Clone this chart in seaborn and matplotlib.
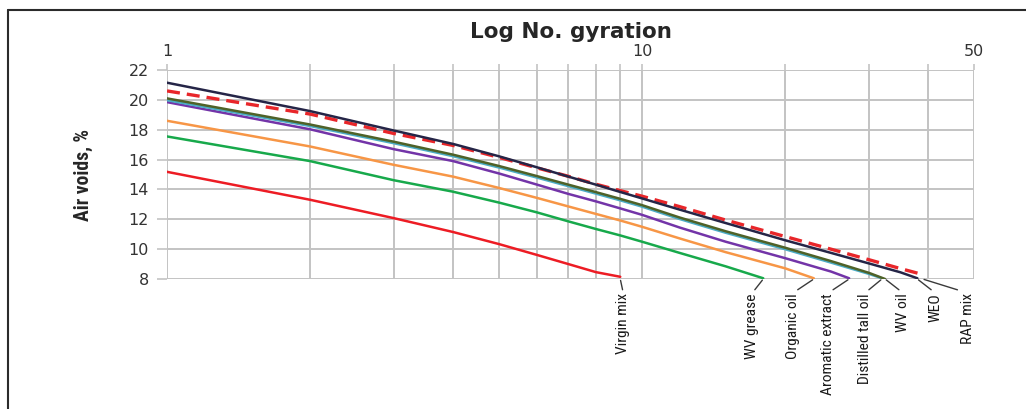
import matplotlib
matplotlib.use("Agg")
import matplotlib.pyplot as plt
from matplotlib import font_manager
from matplotlib.lines import Line2D
from matplotlib.text import Text
from matplotlib.ticker import FixedLocator, NullFormatter, FixedFormatter
import seaborn as sns
import pandas as pd

# Gyration counts and air voids (%) for each mix
n_virgin = [1, 2, 3, 4, 5, 6, 7, 8, 9]
av_virgin = [15.18, 13.31, 12.08, 11.15, 10.34, 9.62, 9.0, 8.46, 8.15]

n_wv_grease = [1, 2, 3, 4, 5, 6, 7, 8, 9, 10, 12, 15, 18]
av_wv_grease = [17.55, 15.9, 14.62, 13.85, 13.12, 12.47, 11.86, 11.35, 10.92, 10.5, 9.75, 8.85, 8.05]

n_organic = [1, 2, 3, 4, 5, 6, 7, 8, 9, 10, 12, 15, 20, 23]
av_organic = [18.6, 16.88, 15.65, 14.86, 14.1, 13.44, 12.86, 12.36, 11.92, 11.5, 10.72, 9.8, 8.72, 8.05]

n_aromatic = [1, 2, 3, 4, 5, 6, 7, 8, 9, 10, 12, 15, 20, 25, 27.3]
av_aromatic = [19.85, 18.03, 16.7, 15.9, 15.07, 14.33, 13.7, 13.2, 12.73, 12.3, 11.45, 10.5, 9.4, 8.5, 8.05]

n_tall_oil = [1, 2, 3, 4, 5, 6, 7, 8, 9, 10, 12, 15, 20, 25, 30, 32]
av_tall_oil = [19.98, 18.25, 17.1, 16.23, 15.47, 14.8, 14.22, 13.72, 13.27, 12.85, 12.02, 11.1, 10.0, 9.1, 8.35, 8.05]

n_wv_oil = [1, 2, 3, 4, 5, 6, 7, 8, 9, 10, 12, 15, 20, 25, 30, 32.5]
av_wv_oil = [20.1, 18.35, 17.2, 16.33, 15.57, 14.9, 14.32, 13.82, 13.37, 12.95, 12.12, 11.2, 10.1, 9.2, 8.42, 8.0]

n_rap = [1, 2, 3, 4, 5, 6, 7, 8, 9, 10, 12, 15, 20, 25, 30, 35, 39]
av_rap = [20.6, 19.05, 17.75, 16.95, 16.15, 15.45, 14.88, 14.35, 13.92, 13.55, 12.85, 11.95, 10.85, 10.0, 9.3, 8.7, 8.3]

n_weo = [1, 2, 3, 4, 5, 6, 7, 8, 9, 10, 12, 15, 20, 25, 30, 35, 38]
av_weo = [21.15, 19.25, 17.95, 17.05, 16.22, 15.49, 14.86, 14.32, 13.83, 13.4, 12.65, 11.75, 10.6, 9.75, 9.05, 8.45, 8.05]

mixes = ["Virgin mix", "WV grease", "Organic oil", "Aromatic extract",
         "Distilled tall oil", "WV oil", "RAP mix", "WEO"]
gyrations = [n_virgin, n_wv_grease, n_organic, n_aromatic, n_tall_oil, n_wv_oil, n_rap, n_weo]
air_voids = [av_virgin, av_wv_grease, av_organic, av_aromatic, av_tall_oil, av_wv_oil, av_rap, av_weo]

colors = ["#ed1c24", "#17a94b", "#f79646", "#7334a8",
          "#4bacc6", "#4f6228", "#e8262a", "#252547"]

# horizontal offsets (pixels) of each end label from the curve end
label_dx = [3, -11, -21, -21, -17, 18, 45, 18]

rows = []
for mix, ns, avs in zip(mixes, gyrations, air_voids):
    for n, v in zip(ns, avs):
        rows.append({"mix": mix, "N": n, "air_voids": v})
df = pd.DataFrame(rows)

sns.set_style("white")
plt.rcParams["font.family"] = ["DejaVu Sans"]


def pick_narrow_font():
    """Return (family, stretch) for a narrow sans face, if one is installed."""
    entries = font_manager.fontManager.ttflist
    names = {f.name for f in entries}
    for fam in ["Liberation Sans Narrow", "Roboto Condensed", "Open Sans Condensed",
                "Noto Sans Condensed", "DejaVu Sans Condensed", "Arial Narrow"]:
        if fam in names:
            return fam, "normal"
    for fam in ["Noto Sans", "Open Sans", "DejaVu Sans", "Roboto"]:
        for f in entries:
            if f.name == fam and "condensed" in str(f.stretch):
                return fam, "condensed"
    return "Roboto", "normal"


narrow, narrow_stretch = pick_narrow_font()

fig = plt.figure(figsize=(10.26, 4.09), dpi=100)
ax = fig.add_axes([0.1628, 0.3178, 0.7865, 0.5110])

for mix, col in zip(mixes, colors):
    sub = df[df["mix"] == mix]
    is_rap = mix == "RAP mix"
    sns.lineplot(data=sub, x="N", y="air_voids", ax=ax, color=col,
                 lw=2.4 if is_rap else 1.8, estimator=None, sort=False,
                 legend=False, zorder=3)
    if is_rap:
        ax.lines[-1].set_dashes((3.9, 2.1))

ax.set_xscale("log")
ax.set_xlim(1, 50)
ax.set_ylim(8, 22)

grid_col = "#c3c3c3"
ax.xaxis.set_major_locator(FixedLocator([1, 10, 50]))
ax.xaxis.set_major_formatter(FixedFormatter(["1", "10", "50"]))
ax.xaxis.set_minor_locator(FixedLocator([2, 3, 4, 5, 6, 7, 8, 9, 20, 30, 40]))
ax.xaxis.set_minor_formatter(NullFormatter())
ax.set_yticks(range(8, 23, 2))

ax.xaxis.tick_top()
ax.xaxis.set_label_position("top")
ax.tick_params(axis="x", which="both", top=True, bottom=False, length=4,
               width=1.2, color=grid_col, labelsize=11.5, labelcolor="#333333", pad=4)
ax.tick_params(axis="y", which="major", left=True, length=7, width=1.2,
               color=grid_col, labelsize=11.5, labelcolor="#333333", pad=6)

ax.grid(axis="x", which="both", color=grid_col, lw=1.4, zorder=0)
ax.grid(axis="y", which="major", color=grid_col, lw=1.4, zorder=0)
for s in ax.spines.values():
    s.set_visible(False)

ax.set_xlabel("Log No. gyration", fontsize=15.5, fontweight="bold", labelpad=4)
ylab = ax.set_ylabel("Air voids, %", fontsize=14, fontweight="bold",
                     family=[narrow, "DejaVu Sans"], fontstretch=narrow_stretch)
ax.yaxis.set_label_coords(-0.092, 0.5)

labels = []
for mix, ns, dx in zip(mixes, gyrations, label_dx):
    t = ax.annotate(mix, xy=(ns[-1], 8.0), xycoords="data",
                    xytext=(dx, -14), textcoords="offset pixels",
                    rotation=90, ha="center", va="top", fontsize=12.4,
                    family=[narrow, "DejaVu Sans"], fontstretch=narrow_stretch,
                    color="#1a1a1a", annotation_clip=False,
                    arrowprops=dict(arrowstyle="-", color="#3a3a3a", lw=1.0,
                                    relpos=(0.5, 1.0), shrinkA=0, shrinkB=1))
    labels.append(t)

# scale the rotated texts so their lengths fit the space under the axes
renderer = fig.canvas.get_renderer()
ref_label = labels[mixes.index("Aromatic extract")]
scale = 102.0 / Text.get_window_extent(ref_label, renderer).height
for t in labels:
    t.set_fontsize(t.get_fontsize() * scale)
yscale = 92.0 / ylab.get_window_extent(renderer).height
ylab.set_fontsize(ylab.get_fontsize() * yscale)

# outer frame
fig.add_artist(Line2D([8 / 1026, 1], [1 - 10 / 409, 1 - 10 / 409],
                      transform=fig.transFigure, color="#2b2b2b", lw=1.5))
fig.add_artist(Line2D([8 / 1026, 8 / 1026], [0, 1 - 10 / 409],
                      transform=fig.transFigure, color="#2b2b2b", lw=1.5))

fig.savefig("out.png", dpi=100)
